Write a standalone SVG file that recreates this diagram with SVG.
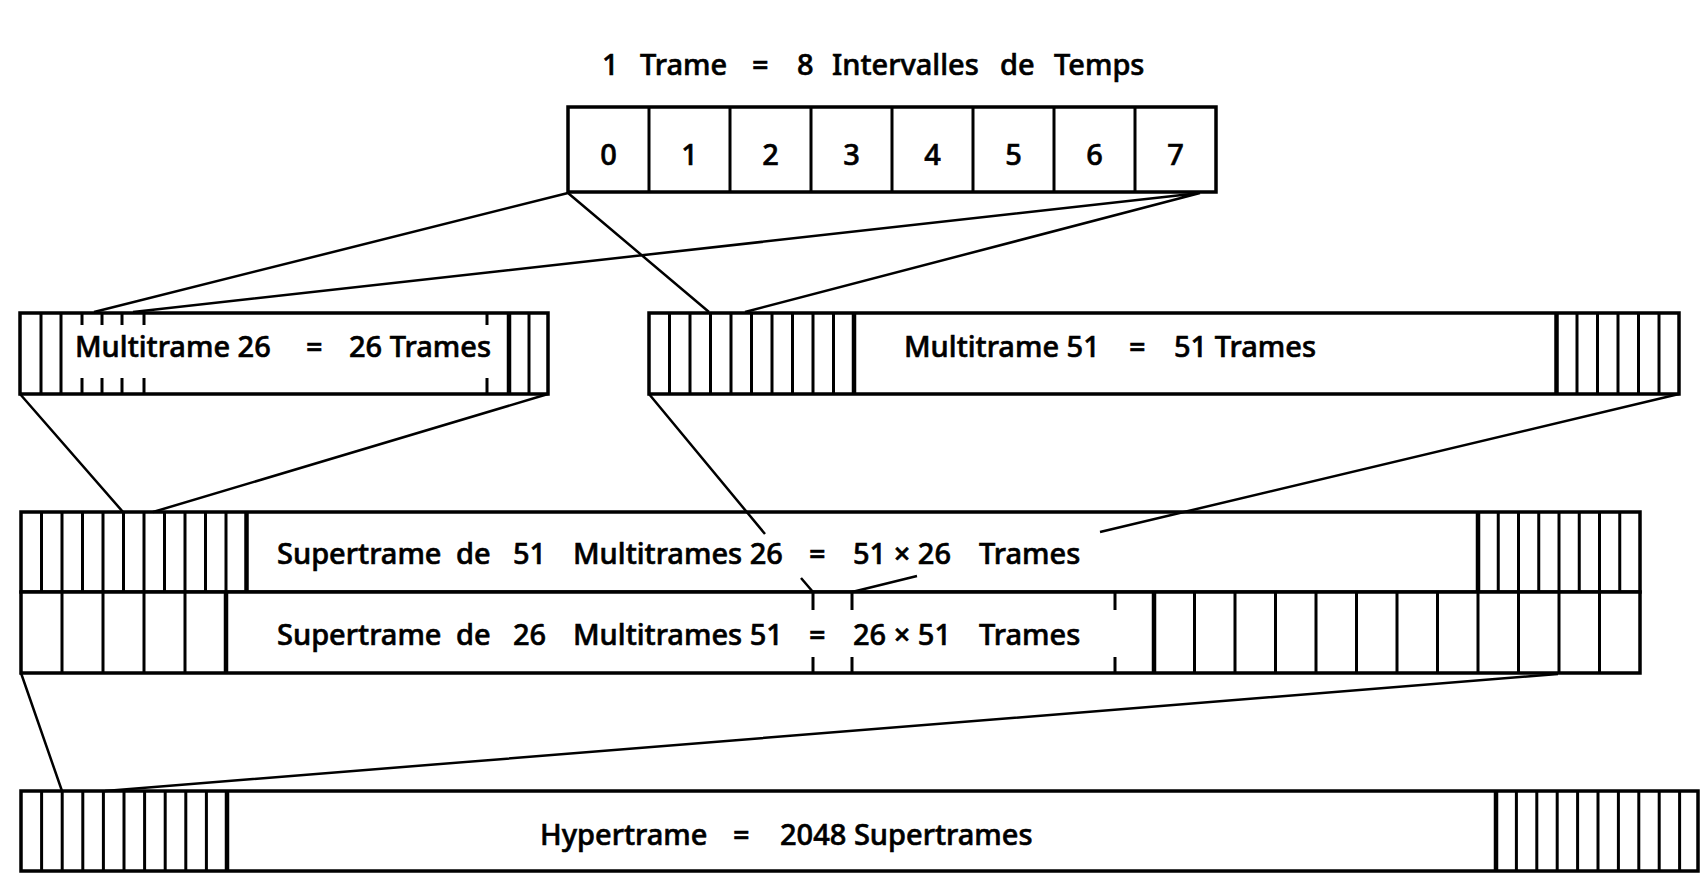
<svg xmlns="http://www.w3.org/2000/svg" width="1702" height="890" viewBox="0 0 1702 890">
<style>
.bg{fill:#fff}
.box{fill:#fff;stroke:#000;stroke-width:3.5}
.cell{fill:none;stroke:#000;stroke-width:3}
.thick{fill:none;stroke:#000;stroke-width:4.5}
.conn{fill:none;stroke:#000;stroke-width:2.5}
.t{font-family:"Noto Sans","Liberation Sans",sans-serif;font-size:29px;font-weight:500;fill:#000;stroke:#000;stroke-width:0.6}
.c{text-anchor:middle}
</style>
<rect class="bg" x="0" y="0" width="1702" height="890"/>

<g id="title">
<text class="t" y="75"><tspan x="602">1</tspan><tspan x="640">Trame</tspan><tspan x="752">=</tspan><tspan x="797">8</tspan><tspan x="832">Intervalles</tspan><tspan x="1000">de</tspan><tspan x="1054">Temps</tspan></text>
</g>

<g id="trame">
<rect class="box" x="568" y="107" width="648" height="85"/>
<path class="cell" d="M649 107V192M730 107V192M811 107V192M892 107V192M973 107V192M1054 107V192M1135 107V192"/>
<text class="t c" y="165"><tspan x="608.5">0</tspan><tspan x="689.5">1</tspan><tspan x="770.5">2</tspan><tspan x="851.5">3</tspan><tspan x="932.5">4</tspan><tspan x="1013.5">5</tspan><tspan x="1094.5">6</tspan><tspan x="1175.5">7</tspan></text>
</g>

<g id="multitrame26">
<rect class="box" x="20" y="313" width="528" height="81"/>
<path class="cell" d="M41 313V394M61 313V394M529 313V394M82 313V325M102 313V325M122 313V325M144 313V325M487 313V325M82 378V394M102 378V394M122 378V394M144 378V394M487 378V394"/>
<path class="thick" d="M509 313V394"/>
<text class="t" y="357"><tspan x="75">Multitrame 26</tspan><tspan x="306">=</tspan><tspan x="349">26 Trames</tspan></text>
</g>

<g id="multitrame51">
<rect class="box" x="649" y="313" width="1030" height="81"/>
<path class="cell" d="M669.5 313V394M690 313V394M710.5 313V394M731 313V394M751.5 313V394M772 313V394M792.5 313V394M813 313V394M833.5 313V394M1577 313V394M1597.5 313V394M1618 313V394M1638.5 313V394M1659 313V394"/>
<path class="thick" d="M854 313V394M1556.5 313V394"/>
<text class="t" y="357"><tspan x="904">Multitrame 51</tspan><tspan x="1129">=</tspan><tspan x="1174">51 Trames</tspan></text>
</g>

<g id="supertrame51">
<rect class="box" x="21" y="512" width="1619" height="80"/>
<path class="cell" d="M41.5 512V592M62 512V592M82.5 512V592M103 512V592M123.5 512V592M144 512V592M164.5 512V592M185 512V592M205.5 512V592M226 512V592M1498.25 512V592M1518.5 512V592M1538.75 512V592M1559 512V592M1579.25 512V592M1599.5 512V592M1619.75 512V592"/>
<path class="thick" d="M246.5 512V592M1478 512V592"/>
<text class="t" y="564"><tspan x="277">Supertrame</tspan><tspan x="456">de</tspan><tspan x="513">51</tspan><tspan x="573">Multitrames 26</tspan><tspan x="809">=</tspan><tspan x="853">51 × 26</tspan><tspan x="979">Trames</tspan></text>
</g>

<g id="supertrame26">
<rect class="box" x="21" y="592" width="1619" height="81"/>
<path class="cell" d="M62 592V673M103 592V673M144 592V673M185 592V673M1194.5 592V673M1235 592V673M1275.5 592V673M1316 592V673M1356.5 592V673M1397 592V673M1437.5 592V673M1478 592V673M1518.5 592V673M1559 592V673M1599.5 592V673M813 592V610M852 592V610M1115 592V610M813 657V673M852 657V673M1115 657V673"/>
<path class="thick" d="M226 592V673M1154 592V673"/>
<text class="t" y="645"><tspan x="277">Supertrame</tspan><tspan x="456">de</tspan><tspan x="513">26</tspan><tspan x="573">Multitrames 51</tspan><tspan x="809">=</tspan><tspan x="853">26 × 51</tspan><tspan x="979">Trames</tspan></text>
</g>

<g id="hypertrame">
<rect class="box" x="21" y="791" width="1677" height="80"/>
<path class="cell" d="M41.6 791V871M62.2 791V871M82.8 791V871M103.4 791V871M124 791V871M144.6 791V871M165.2 791V871M185.8 791V871M206.4 791V871M1516.4 791V871M1536.8 791V871M1557.2 791V871M1577.6 791V871M1598 791V871M1618.4 791V871M1638.8 791V871M1659.2 791V871M1679.6 791V871"/>
<path class="thick" d="M227 791V871M1496 791V871"/>
<text class="t" y="845"><tspan x="540">Hypertrame</tspan><tspan x="733">=</tspan><tspan x="780">2048 Supertrames</tspan></text>
</g>

<g id="connectors">
<path class="conn" d="M568 193L94 312M1200 193L133 312M568 193L709 312M1200 193L745 312"/>
<path class="conn" d="M20 394L123 512M548 394L153 512"/>
<path class="conn" d="M649 394L765 534M801 578L813 592"/>
<path class="conn" d="M1679 394L1100 532M917 576L852 592"/>
<path class="conn" d="M21 673L62 791M1558 674L105 791"/>
</g>
</svg>
